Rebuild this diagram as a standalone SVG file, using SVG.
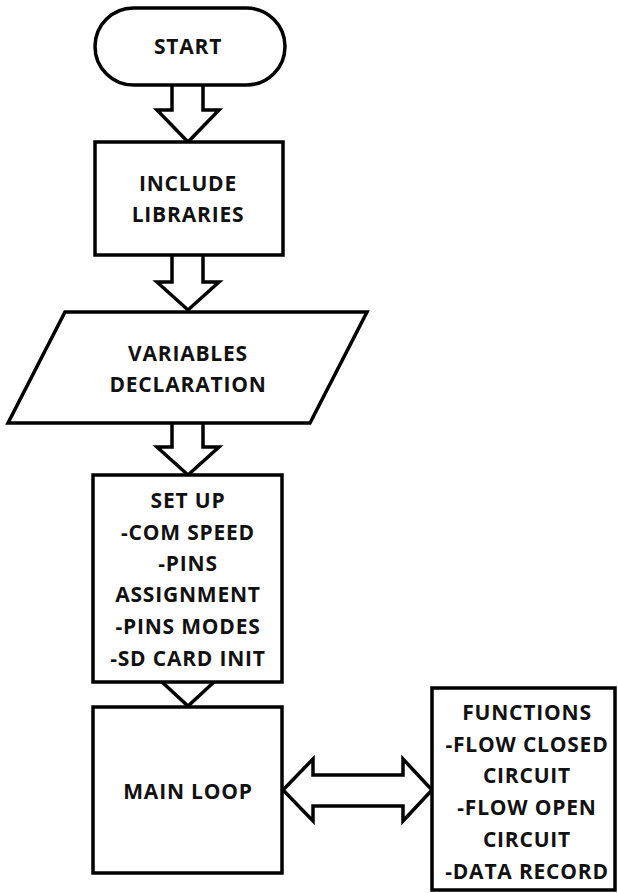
<svg xmlns="http://www.w3.org/2000/svg" width="618" height="893" viewBox="0 0 618 893">
<style>
.s{fill:#fff;stroke:#000;stroke-width:3.5;stroke-linejoin:miter}
.c{fill:#fff;stroke:#000;stroke-width:3.5;stroke-linejoin:miter}
text{font-family:"Open Sans","Liberation Sans",sans-serif;font-weight:bold;font-size:21px;fill:#111;text-anchor:middle;letter-spacing:0.8px}
</style>
<rect width="618" height="893" fill="#fff"/>
<g id="connectors">
<path class="c" d="M172,85 V110 H157 L188,142 L219,110 H203 V85"/>
<path class="c" d="M172,255 V282 H157 L188,310 L219,282 H203 V255"/>
<path class="c" d="M172,423 V447 H157 L188,475 L219,447 H203 V423"/>
<path class="c" d="M162,682 L188,706 L214,682"/>
<path class="c" d="M283,790 L313,759 V775 H403 V759 L432,790 L403,821 V806 H313 V821 Z"/>
</g>
<g id="start">
<rect class="s" x="95" y="8" width="190" height="77" rx="38.5" ry="38.5"/>
<text x="188" y="54">START</text>
</g>
<g id="include">
<rect class="s" x="95" y="142" width="188" height="113"/>
<text x="188" y="191">INCLUDE</text>
<text x="188" y="222">LIBRARIES</text>
</g>
<g id="variables">
<polygon class="s" points="65,312 367,312 310,423 8,423"/>
<text x="188" y="361">VARIABLES</text>
<text x="188" y="392">DECLARATION</text>
</g>
<g id="setup">
<rect class="s" x="93" y="475" width="189" height="207"/>
<text x="188" y="508">SET UP</text>
<text x="188" y="540">-COM SPEED</text>
<text x="188" y="571">-PINS</text>
<text x="188" y="602">ASSIGNMENT</text>
<text x="188" y="634">-PINS MODES</text>
<text x="188" y="666">-SD CARD INIT</text>
</g>
<g id="mainloop">
<rect class="s" x="93" y="707" width="189" height="166"/>
<text x="188" y="799">MAIN LOOP</text>
</g>
<g id="functions">
<rect class="s" x="432" y="688" width="183" height="202"/>
<text x="527" y="720">FUNCTIONS</text>
<text x="527" y="752">-FLOW CLOSED</text>
<text x="527" y="783">CIRCUIT</text>
<text x="527" y="815">-FLOW OPEN</text>
<text x="527" y="847">CIRCUIT</text>
<text x="527" y="879">-DATA RECORD</text>
</g>
</svg>
